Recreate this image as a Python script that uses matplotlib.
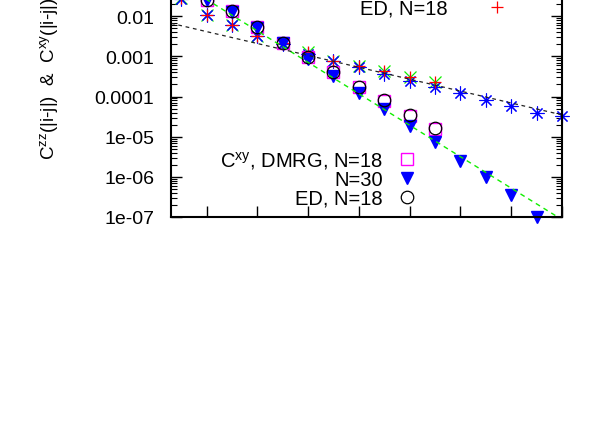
import numpy as np
import matplotlib
matplotlib.use('Agg')
import matplotlib.pyplot as plt
from matplotlib.ticker import LogLocator, FuncFormatter, MultipleLocator, NullFormatter

plt.rcParams['font.family'] = ['Liberation Sans', 'DejaVu Sans']
plt.rcParams['mathtext.fontset'] = 'custom'
plt.rcParams['mathtext.rm'] = 'Liberation Sans'

# distances |i-j|
dist_n18 = [1, 2, 3, 4, 5, 6, 7, 8, 9, 10, 11]
dist_xy30 = [1, 2, 3, 4, 5, 6, 7, 8, 9, 10, 11, 12, 13, 14, 15]
dist_zz30 = [1, 2, 3, 4, 5, 6, 7, 8, 9, 10, 11, 12, 13, 14, 15, 16]

# C^zz
czz_dmrg18 = [0.028, 0.011, 0.0062, 0.0033, 0.0021, 0.0013, 7.8e-4, 5.8e-4, 4.35e-4, 3.05e-4, 2.35e-4]
czz_dmrg30 = [0.027, 0.011, 0.006, 0.0032, 0.0020, 0.00113, 7.7e-4, 5.4e-4, 3.6e-4, 2.45e-4,
              1.7e-4, 1.2e-4, 8.2e-5, 5.9e-5, 4.0e-5, 3.3e-5]
czz_ed18 = [0.028, 0.011, 0.0062, 0.0033, 0.0021, 0.00127, 7.6e-4, 5.7e-4, 4.3e-4, 3.0e-4, 2.3e-4]

# C^xy
cxy_dmrg18 = [0.07, 0.026, 0.0133, 0.0053, 0.0022, 0.00095, 4.0e-4, 1.7e-4, 7.8e-5, 3.2e-5, 1.6e-5]
cxy_dmrg30 = [0.07, 0.026, 0.013, 0.0052, 0.0021, 0.00086, 3.3e-4, 1.2e-4, 4.9e-5, 1.9e-5,
              7.3e-6, 2.5e-6, 1.0e-6, 3.6e-7, 1.0e-7]
cxy_ed18 = [0.07, 0.026, 0.0135, 0.0054, 0.0022, 0.00097, 4.1e-4, 1.75e-4, 8.0e-5, 3.4e-5, 1.65e-5]

# fit lines (end points)
fit_xy_x = [0.6, 16]
fit_xy_y = [0.093, 8.6e-8]
fit_zz_x = [0.6, 16]
fit_zz_y = [0.0067, 3.5e-5]

fig = plt.figure(figsize=(6.1, 4.27), dpi=100)
ax = fig.add_axes([0.2803, 0.4895, 0.641, 0.658])
ax.set_yscale('log')

green = '#11ee00'
h_zz18, = ax.plot(dist_n18, czz_dmrg18, 'x', color=green, ms=9, mew=0.9, clip_on=False)
h_zz30, = ax.plot(dist_zz30, czz_dmrg30, ls='none', marker=(8, 2, 0), color='blue', ms=10, mew=0.8, clip_on=False)
h_zzed, = ax.plot(dist_n18, czz_ed18, '+', color='red', ms=9, mew=0.9, clip_on=False)

h_xy18, = ax.plot(dist_n18, cxy_dmrg18, 's', mfc='none', mec='magenta', ms=9, mew=1.0, clip_on=False)
h_xy30, = ax.plot(dist_xy30, cxy_dmrg30, 'v', color='blue', ms=8, clip_on=False)
h_xyed, = ax.plot(dist_n18, cxy_ed18, 'o', mfc='none', mec='black', ms=9, mew=0.9, clip_on=False)

ax.plot(fit_xy_x, fit_xy_y, color=green, lw=1.0, dashes=(3.5, 3))
ax.plot(fit_zz_x, fit_zz_y, color='#222222', lw=0.9, dashes=(3, 3))

ax.set_xlim(0.6, 16)
ax.set_ylim(1e-7, 1)

ax.xaxis.set_major_locator(MultipleLocator(2))
ax.yaxis.set_major_locator(LogLocator(base=10, numticks=20))
ax.yaxis.set_minor_locator(LogLocator(base=10, subs=np.arange(2, 10), numticks=20))
ax.yaxis.set_minor_formatter(NullFormatter())
ax.yaxis.set_major_formatter(FuncFormatter(lambda v, p: '%g' % v))

ax.tick_params(which='both', direction='in', top=True, right=True, labelbottom=False)
ax.tick_params(which='major', length=8, width=1.0, labelsize=14, pad=12)
ax.tick_params(which='minor', length=4, width=0.8)
for sp in ax.spines.values():
    sp.set_linewidth(1.5)

ax.set_ylabel(r'$\mathregular{C^{zz}}$(|i-j|)  &  $\mathregular{C^{xy}}$(|i-j|)', fontsize=13.5, loc='bottom')
ax.yaxis.set_label_coords(-0.284, 0.206)

leg_fs = 14.5
leg1 = ax.legend([h_zz18, h_zz30, h_zzed],
                 [r'$\mathregular{C^{zz}}$, DMRG, N=18', 'N=30', 'ED, N=18'],
                 loc='lower right', bbox_to_anchor=(507 / 610, 408 / 427), bbox_transform=fig.transFigure,
                 frameon=False, markerfirst=False, numpoints=1, handlelength=1.0,
                 handletextpad=1.94, borderpad=0, borderaxespad=0, labelspacing=-0.02, fontsize=leg_fs)
ax.add_artist(leg1)
ax.legend([h_xy18, h_xy30, h_xyed],
          [r'$\mathregular{C^{xy}}$, DMRG, N=18', 'N=30', 'ED, N=18'],
          loc='lower right', bbox_to_anchor=(417 / 610, 218 / 427), bbox_transform=fig.transFigure,
          frameon=False, markerfirst=False, numpoints=1, handlelength=1.0,
          handletextpad=0.7, borderpad=0, borderaxespad=0, labelspacing=-0.02, fontsize=leg_fs)

fig.savefig('out.png', dpi=100)
